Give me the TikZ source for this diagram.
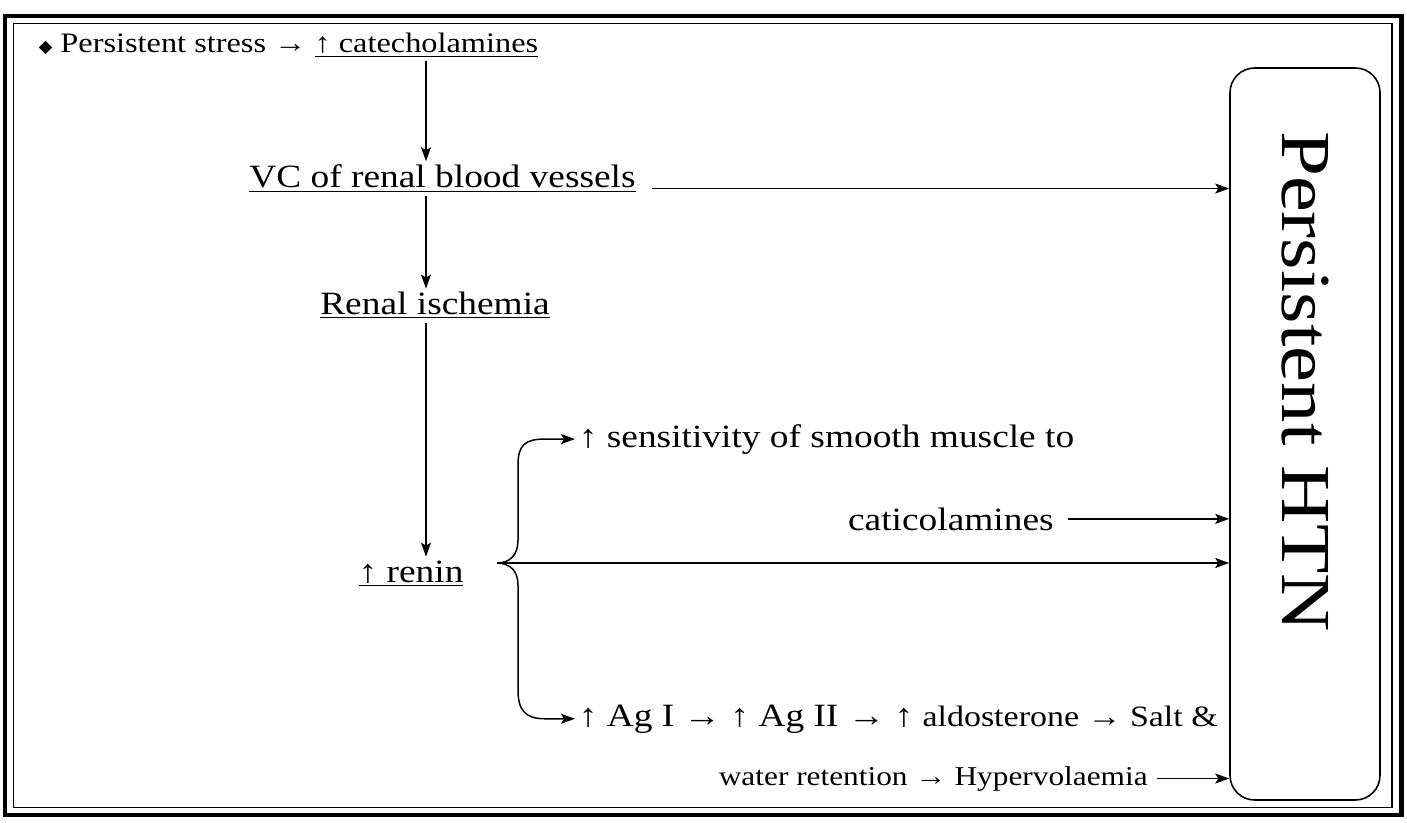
\documentclass[tikz,border=0pt]{standalone}
\usepackage{fontspec}
\setmainfont{Liberation Serif}[FakeStretch=1.15]
\newfontfamily\symfont{DejaVu Sans}
\usetikzlibrary{arrows.meta,calc}
\newcommand{\bigsz}{\fontsize{18.5}{22}\selectfont}
\newcommand{\smallsz}{\fontsize{15.5}{18}\selectfont}
\newcommand{\midsz}{\fontsize{16.8}{20}\selectfont}
\newcommand{\htnsz}{\fontsize{40}{45}\selectfont}
\tikzset{
  >={Stealth[length=2.8mm,width=2mm,inset=0.6mm]},
  flow/.style={->,line width=0.85pt,draw=black},
  bigtxt/.style={font=\bigsz,inner sep=2pt},
  smalltxt/.style={font=\smallsz,inner sep=2pt},
  htnbox/.style={draw,line width=0.9pt,rounded corners=14pt,
    minimum width=3cm,minimum height=14.64cm},
}
\begin{document}
\begin{tikzpicture}
  \useasboundingbox (0,0) rectangle (28.14,-16.46);
  % double frame
  \draw[line width=2.4pt] (0.10,-0.32) rectangle (28.03,-16.30);
  \draw[line width=0.8pt] (0.27,-0.47) rectangle (27.84,-16.15);
  \coordinate (spine) at (8.52,0);
  % chain of causes
  \node[font=\fontsize{16}{19}\selectfont,inner sep=2pt,anchor=base west] (stress) at (0.70,-1.06)
    {{\symfont\fontsize{10}{10}\selectfont ◆}\ Persistent stress → \underline{↑ catecholamines}};
  \node[bigtxt,anchor=base] (vc) at (8.85,-3.76) {\underline{VC of renal blood vessels}};
  \node[bigtxt,anchor=base] (renal) at (8.70,-6.30) {\underline{Renal ischemia}};
  \node[bigtxt,anchor=base] (renin) at (8.22,-11.64) {\underline{↑ renin}};
  \node[bigtxt,anchor=base west] (sens) at (11.5,-8.94) {↑ sensitivity of smooth muscle to};
  \node[bigtxt,anchor=base east] (catic) at (21.15,-10.6) {caticolamines};
  \node[bigtxt,anchor=base west] (agchain) at (11.5,-14.52)
    {↑ Ag I → ↑ Ag II → ↑ {\midsz aldosterone → Salt \&}};
  \node[smalltxt,anchor=base west] (hyper) at (14.3,-15.7) {water retention → Hypervolaemia};
  % outcome
  \node[htnbox] (htn) at (26.1,-8.68) {};
  \node[font=\htnsz,rotate=-90] (htnlbl) at ([yshift=1.05cm]htn.center) {Persistent HTN};
  \coordinate (brtip) at (9.94,-11.26);
  % vertical arrows
  \draw[flow] (stress.south -| spine) -- (vc.north -| spine);
  \draw[flow] (vc.south -| spine) -- (renal.north -| spine);
  \draw[flow] (renal.south -| spine) -- (renin.north -| spine);
  % brace
  \draw[flow] (brtip) .. controls (10.2,-11.26) and (10.36,-11.1) .. (10.36,-10.8)
    -- (10.36,-9.3) .. controls (10.36,-8.9) and (10.5,0 |- sens.west) .. (10.9,0 |- sens.west)
    -- (sens.west);
  \draw[flow] (brtip) .. controls (10.2,-11.26) and (10.36,-11.42) .. (10.36,-11.7)
    -- (10.36,-13.8) .. controls (10.36,-14.2) and (10.5,0 |- agchain.west) .. (10.9,0 |- agchain.west)
    -- (agchain.west);
  % into HTN
  \draw[flow] ([xshift=2.5mm,yshift=-2mm]vc.east) -- ([yshift=-2mm]vc.east -| htn.west);
  \draw[flow] ([xshift=2mm]catic.east) -- (catic.east -| htn.west);
  \draw[flow] (brtip) -- (brtip -| htn.west);
  \draw[flow] ([xshift=1mm]hyper.east) -- (hyper.east -| htn.west);
\end{tikzpicture}
\end{document}
